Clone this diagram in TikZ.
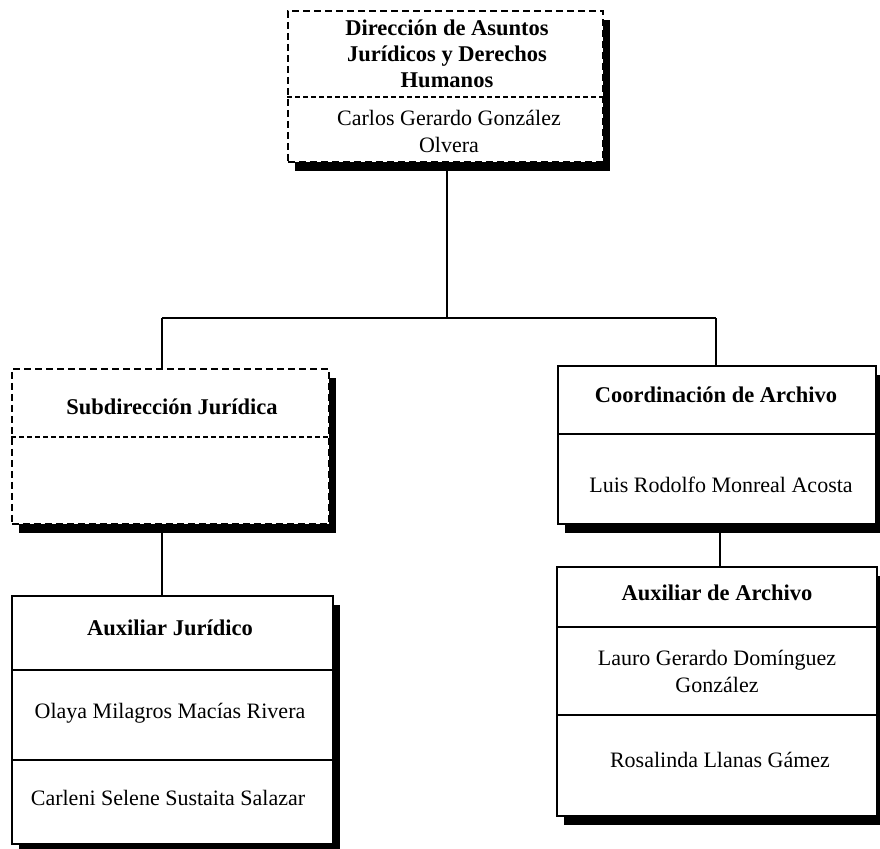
\documentclass[tikz,border=0pt]{standalone}
\usepackage{fontspec}
\setmainfont{Liberation Serif}
\usetikzlibrary{shadows}
\begin{document}
\begin{tikzpicture}[x=1pt,y=-1pt,
  orgbox/.style={draw=black, line width=1.6pt, fill=white, anchor=north west, inner sep=0pt,
    drop shadow={shadow xshift=7pt, shadow yshift=-9pt, fill=black, opacity=1}},
  dashbox/.style={orgbox, dash pattern=on 7pt off 4pt},
  sepline/.style={line width=1.4pt},
  dashsep/.style={line width=1.2pt, dash pattern=on 5pt off 3pt},
  conn/.style={line width=1.6pt},
  ttl/.style={font=\fontsize{22.5}{26}\selectfont\bfseries, align=center, inner sep=0pt},
  nm/.style={font=\fontsize{22}{27}\selectfont, align=center, inner sep=0pt}]
\useasboundingbox (0,0) rectangle (880,848);
% boxes
\node[dashbox, minimum width=315pt, minimum height=151pt] (dir) at (287,10) {};
\node[dashbox, minimum width=317pt, minimum height=155pt] (sub) at (11,368) {};
\node[orgbox, minimum width=318pt, minimum height=158pt] (coo) at (557,365) {};
\node[orgbox, minimum width=321pt, minimum height=248pt] (auj) at (11,595) {};
\node[orgbox, minimum width=320pt, minimum height=249pt] (aua) at (556,566) {};
% separators
\draw[dashsep] (287,97) -- (602,97);
\draw[dashsep] (11,437) -- (328,437);
\draw[sepline] (557,434) -- (875,434);
\draw[sepline] (11,670) -- (332,670);
\draw[sepline] (11,760) -- (332,760);
\draw[sepline] (556,627) -- (876,627);
\draw[sepline] (556,715) -- (876,715);
% texts
\node[ttl] (t1) at (447,54) {Dirección de Asuntos\\Jurídicos y Derechos\\Humanos};
\node[nm] (n1) at (449,131) {Carlos Gerardo González\\Olvera};
\node[ttl] (t2) at (172,407) {Subdirección Jurídica};
\node[ttl] (t3) at (716,395) {Coordinación de Archivo};
\node[nm] (n3) at (721,485) {Luis Rodolfo Monreal Acosta};
\node[ttl] (t4) at (170,628) {Auxiliar Jurídico};
\node[nm] (n4a) at (170,713) {Olaya Milagros Macías Rivera};
\node[nm] (n4b) at (168,798) {Carleni Selene Sustaita Salazar};
\node[ttl] (t5) at (717,593) {Auxiliar de Archivo};
\node[nm] (n5a) at (717,671) {Lauro Gerardo Domínguez\\González};
\node[nm] (n5b) at (720,760) {Rosalinda Llanas Gámez};
% connectors
\coordinate (jl) at (162,318);
\coordinate (jr) at (716,318);
\coordinate (jm) at (447,318);
\draw[conn] (dir.south -| jm) -- (jm);
\draw[conn] (jl) -- (jr);
\draw[conn] (jl) -- (jl |- sub.north);
\draw[conn] (jr) -- (jr |- coo.north);
\draw[conn] (sub.south -| jl) -- (jl |- auj.north);
\coordinate (cr) at (720,0);
\draw[conn] (coo.south -| cr) -- (cr |- aua.north);
\end{tikzpicture}
\end{document}
